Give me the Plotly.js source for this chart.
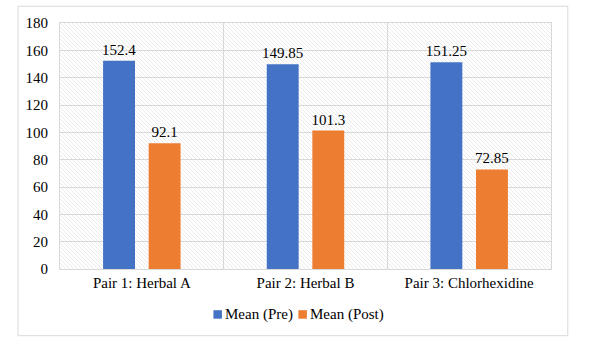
<!DOCTYPE html>
<html>
<head>
<meta charset="utf-8">
<script src="https://cdn.plot.ly/plotly-3.0.1.min.js"></script>
<style>html,body{margin:0;padding:0;background:#fff;}#chart{width:600px;height:351px;}</style>
</head>
<body>
<div id="chart"></div>
<script>
const categories = ["Pair 1: Herbal A", "Pair 2: Herbal B", "Pair 3: Chlorhexidine"];
const seriesNames = ["Mean (Pre)", "Mean (Post)"];
const meanPre = [152.4, 149.85, 151.25];
const meanPost = [92.1, 101.3, 72.85];
const preLabels = ["152.4", "149.85", "151.25"];
const postLabels = ["92.1", "101.3", "72.85"];
const colors = ["#4472c4", "#ed7d31"];

const W = 600, H = 351;
const M = {l: 59.5, r: 49.3, t: 23.3, b: 81.7};
const pw = W - M.l - M.r, ph = H - M.t - M.b;
const px = x => (x - M.l) / pw;
const py = y => (H - M.b - y) / ph;

const svg = "<svg xmlns='http://www.w3.org/2000/svg' width='491' height='246'>" +
  "<defs><pattern id='p' width='4' height='4' patternUnits='userSpaceOnUse'>" +
  "<path d='M-1,-1 L5,5 M-1,3 L1,5 M3,-1 L5,1' stroke='#e2e2e2' stroke-width='0.7'/></pattern></defs>" +
  "<rect width='100%' height='100%' fill='white'/><rect width='100%' height='100%' fill='url(#p)'/></svg>";
const bg = "data:image/svg+xml;charset=utf-8," + encodeURIComponent(svg);

const mkFont = () => ({family: "Liberation Serif", size: 15, color: "#000"});

const traces = [
  {type: "bar", name: seriesNames[0], x: categories, y: meanPre, text: preLabels,
   textposition: "outside", cliponaxis: false, textfont: mkFont(), constraintext: "none",
   marker: {color: colors[0]}},
  {type: "bar", name: seriesNames[1], x: categories, y: meanPost, text: postLabels,
   textposition: "outside", cliponaxis: false, textfont: mkFont(), constraintext: "none",
   marker: {color: colors[1]}}
];

const legendY = 315;
const legendItems = [{x: 213, name: seriesNames[0], c: colors[0]}, {x: 298, name: seriesNames[1], c: colors[1]}];
const shapes = [{type: "rect", xref: "paper", yref: "paper",
  x0: px(17.5), x1: px(567.5), y0: py(336), y1: py(6.5),
  line: {color: "#d9d9d9", width: 1}, fillcolor: "rgba(0,0,0,0)", layer: "below"}];
const annotations = [];
legendItems.forEach(it => {
  shapes.push({type: "rect", xref: "paper", yref: "paper",
    x0: px(it.x), x1: px(it.x + 8.5), y0: py(legendY + 4), y1: py(legendY - 4.5),
    line: {width: 0}, fillcolor: it.c});
  annotations.push({xref: "paper", yref: "paper", x: px(it.x + 9.5), y: py(legendY),
    xanchor: "left", yanchor: "middle", text: it.name, showarrow: false, font: mkFont()});
});

const layout = {
  width: W, height: H,
  margin: M,
  paper_bgcolor: "#fff", plot_bgcolor: "rgba(0,0,0,0)",
  font: mkFont(),
  barmode: "group", bargap: 0.443, bargroupgap: 0.3,
  showlegend: false,
  xaxis: {type: "category", tickson: "boundaries", showgrid: true, gridcolor: "#d9d9d9",
          showline: true, linecolor: "#d9d9d9", mirror: true, ticks: "", tickfont: mkFont(),
          fixedrange: true},
  yaxis: {range: [0, 180], dtick: 20, showgrid: true, gridcolor: "#d9d9d9", gridwidth: 1,
          showline: true, linecolor: "#d9d9d9", mirror: true, ticks: "", tickfont: mkFont(),
          ticklabelstandoff: 8, zeroline: false, fixedrange: true},
  images: [{source: bg, xref: "paper", yref: "paper", x: 0, y: 1, sizex: 1, sizey: 1,
            sizing: "stretch", layer: "below", xanchor: "left", yanchor: "top"}],
  shapes: shapes,
  annotations: annotations
};

Plotly.newPlot("chart", traces, layout, {displayModeBar: false, staticPlot: true});
</script>
</body>
</html>
